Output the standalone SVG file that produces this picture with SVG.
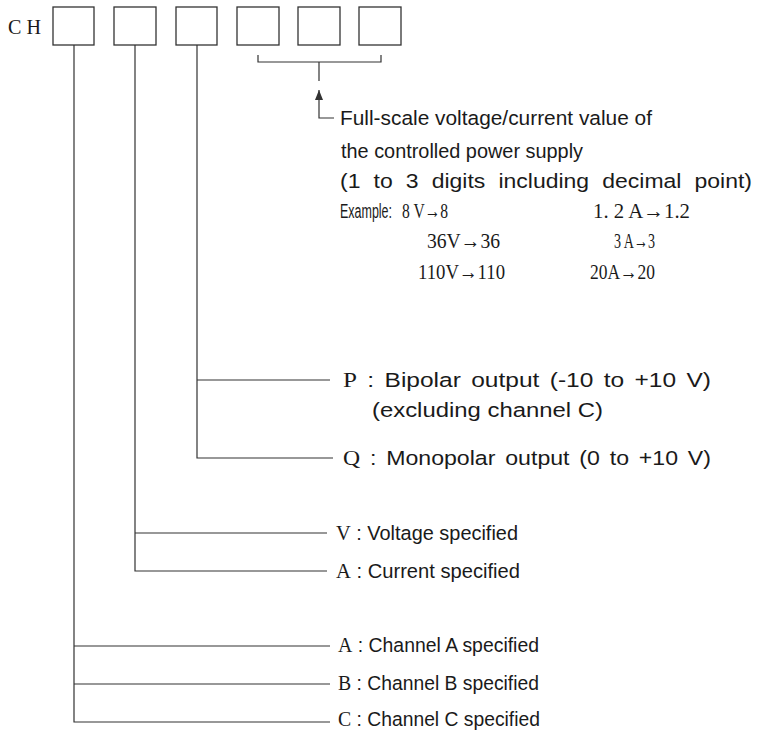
<svg xmlns="http://www.w3.org/2000/svg" width="763" height="731" viewBox="0 0 763 731">
<style>
.bg{fill:#fff}
.box{fill:#fff;stroke:#333;stroke-width:1.3}
.ln{fill:none;stroke:#333;stroke-width:1.2}
.t{font-family:"Liberation Sans Narrow","Liberation Sans",sans-serif;font-size:20.5px;fill:#1a1a1a}
.s{font-family:"Liberation Serif",serif;font-size:21px;fill:#1a1a1a}
.w{word-spacing:3px}
.ww{word-spacing:6px}
</style>
<defs>
<marker id="ah" viewBox="0 0 10 8" refX="10" refY="4" markerWidth="10" markerHeight="8" markerUnits="userSpaceOnUse" orient="auto-start-reverse">
<path d="M0,0 L10,4 L0,8 Z" fill="#333"/>
</marker>
</defs>
<rect class="bg" width="763" height="731"/>
<g id="code">
<text class="s" x="8" y="34" textLength="33" lengthAdjust="spacingAndGlyphs">C H</text>
</g>
<g id="box1"><rect class="box" x="53" y="7" width="41" height="38"/></g>
<g id="box2"><rect class="box" x="114" y="7" width="42" height="38"/></g>
<g id="box3"><rect class="box" x="176" y="7" width="41" height="38"/></g>
<g id="box4"><rect class="box" x="237" y="7" width="42" height="38"/></g>
<g id="box5"><rect class="box" x="298" y="7" width="42" height="38"/></g>
<g id="box6"><rect class="box" x="359" y="7" width="42" height="38"/></g>
<g id="connectors">
<path class="ln" d="M258,55 V62 H381 V55 M319,62 V81"/>
<path class="ln" d="M319,90 V118 H334" marker-start="url(#ah)"/>
<path class="ln" d="M197,45 V458 H333 M197,380 H330"/>
<path class="ln" d="M135,45 V571 H327 M135,533 H327"/>
<path class="ln" d="M74,45 V722 H330 M74,646 H330 M74,684 H330"/>
</g>
<g id="fullscale">
<text class="t" x="340" y="125" textLength="312" lengthAdjust="spacingAndGlyphs">Full-scale voltage/current value of</text>
<text class="t" x="341" y="158" textLength="242" lengthAdjust="spacingAndGlyphs">the controlled power supply</text>
<text class="t ww" x="340" y="188" textLength="412" lengthAdjust="spacingAndGlyphs">(1 to 3 digits including decimal point)</text>
<text class="t" x="340" y="218" textLength="52" lengthAdjust="spacingAndGlyphs">Example:</text>
<text class="s" x="402" y="218" textLength="46" lengthAdjust="spacingAndGlyphs">8 V→8</text>
<text class="s" x="593" y="218" textLength="97" lengthAdjust="spacingAndGlyphs">1. 2 A→1.2</text>
<text class="s" x="427" y="248" textLength="73" lengthAdjust="spacingAndGlyphs">36V→36</text>
<text class="s" x="614" y="248" textLength="41" lengthAdjust="spacingAndGlyphs">3 A→3</text>
<text class="s" x="418" y="279" textLength="87" lengthAdjust="spacingAndGlyphs">110V→110</text>
<text class="s" x="590" y="279" textLength="65" lengthAdjust="spacingAndGlyphs">20A→20</text>
</g>
<g id="opt-p">
<text class="t w" x="343" y="387" textLength="368" lengthAdjust="spacingAndGlyphs"><tspan class="s">P</tspan> : Bipolar output (-10 to +10 V)</text>
<text class="t" x="372" y="417" textLength="231" lengthAdjust="spacingAndGlyphs">(excluding channel C)</text>
</g>
<g id="opt-q">
<text class="t w" x="343" y="465" textLength="368" lengthAdjust="spacingAndGlyphs"><tspan class="s">Q</tspan> : Monopolar output (0 to +10 V)</text>
</g>
<g id="opt-v">
<text class="t" x="336" y="540" textLength="182" lengthAdjust="spacingAndGlyphs"><tspan class="s">V</tspan> : Voltage specified</text>
</g>
<g id="opt-a">
<text class="t" x="336" y="578" textLength="184" lengthAdjust="spacingAndGlyphs"><tspan class="s">A</tspan> : Current specified</text>
</g>
<g id="ch-a">
<text class="t" x="338" y="652" textLength="201" lengthAdjust="spacingAndGlyphs"><tspan class="s">A</tspan> : Channel A specified</text>
</g>
<g id="ch-b">
<text class="t" x="338" y="690" textLength="201" lengthAdjust="spacingAndGlyphs"><tspan class="s">B</tspan> : Channel B specified</text>
</g>
<g id="ch-c">
<text class="t" x="338" y="726" textLength="202" lengthAdjust="spacingAndGlyphs"><tspan class="s">C</tspan> : Channel C specified</text>
</g>
</svg>
